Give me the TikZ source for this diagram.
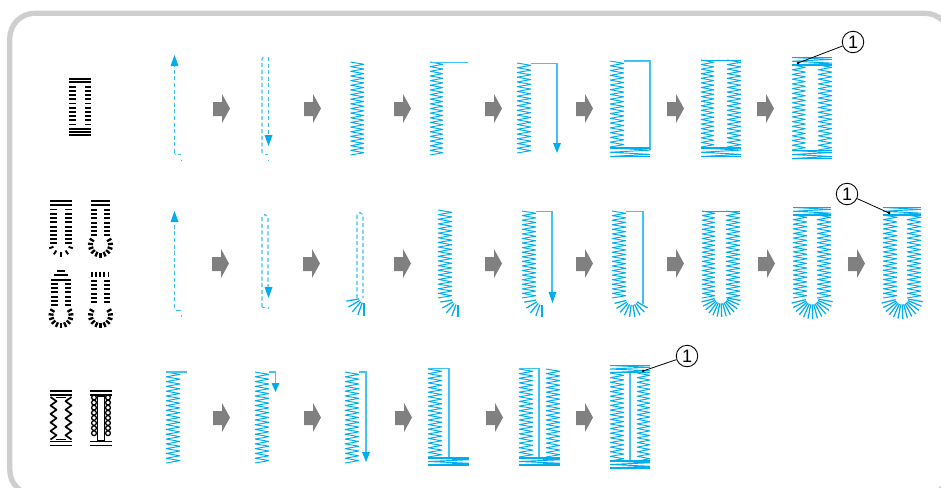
\documentclass[tikz,border=0pt]{standalone}
\usepackage{fontspec}
\setmainfont{Liberation Sans}
\definecolor{thread}{HTML}{00AEEF}
\definecolor{threadl}{HTML}{3CC0F2}
\definecolor{framegray}{HTML}{CECECE}
\definecolor{stepgray}{HTML}{808080}
\tikzset{
  stitch/.style={draw=thread,line width=.95pt,line join=bevel},
  basting/.style={draw=threadl,line width=1.05pt,dash pattern=on 4pt off 2.6pt},
  runline/.style={draw=thread!75,line width=1.1pt},
  tick/.style={draw=black,line width=1.9pt},
  callout/.style={draw=black,circle,line width=.9pt,inner sep=0pt,minimum size=21.5pt,font=\fontsize{18}{18}\selectfont},
  leader/.style={draw=black,line width=.8pt},
}
% zigzag column
\newcommand\zzp[6][stitch]{%
  \pgfmathtruncatemacro\nn{round((#5-#4)/#6)-1}%
  \pgfmathsetmacro\pp{(#5-#4)/(\nn+1)}%
  \draw[#1] (#2,#4) \foreach \i in {0,...,\nn}{ -- (#3,{#4+(\i+.5)*\pp}) -- (#2,{#4+(\i+1)*\pp}) };}
\newcommand\zz[4]{\zzp{#1}{#2}{#3}{#4}{4.7}}
% grey step arrow with its left edge and top
\newcommand\stp[2]{\fill[stepgray] (#1,#2+8) -- (#1+9,#2+8) -- (#1+9,#2) -- (#1+17,#2+14.5) -- (#1+9,#2+29) -- (#1+9,#2+22) -- (#1,#2+22) -- cycle;}
% arrowhead: x, tip y, base y
\newcommand\hd[3]{\fill[thread] (#1,#2) -- (#1-4,#3) -- (#1+4,#3) -- cycle;}
% bar tack block
\newcommand\tack[4]{%
  \draw[stitch,line width=1.3pt] (#1,#3) -- (#2,#3);
  \draw[stitch] (#1,#3) -- (#2,{#3+(#4-#3)*.25}) -- (#1,{#3+(#4-#3)*.5}) -- (#2,{#3+(#4-#3)*.75}) -- (#1,#4);
  \draw[stitch,line width=1.3pt] (#1,#4) -- (#2,#4);}
% radial ticks
\newcommand\fan[8][stitch,line width=1.25pt]{%
  \foreach \a in {#6,#7,...,#8}{\draw[#1] ({#2+#4*cos(\a)},{#3+#4*sin(\a)}) -- ({#2+#5*cos(\a)},{#3+#5*sin(\a)});}}
% rows of black bars
\newcommand\rows[4]{\pgfmathtruncatemacro\mm{(#4-#3)/4.2}\foreach \k in {0,...,\mm}{\draw[tick] (#1,{#3+4.2*\k}) -- (#2,{#3+4.2*\k});}}
\newcommand\hb[3]{\draw[tick] (#1,#3) -- (#2,#3);}
\begin{document}
\begin{tikzpicture}[x=1pt,y=-1pt]
\useasboundingbox (0,0) rectangle (941,487);
\begin{scope}
\clip (0,0) rectangle (941,487);
\draw[framegray,line width=5.3pt,rounded corners=25pt] (9.8,13.3) rectangle (950,495);
\end{scope}

%% ---------- row 1
\hb{69}{91}{79}\hb{69}{91}{82.3}\hb{69}{75.5}{86.7}\hb{85}{91}{86.7}
\rows{69}{75.5}{90.9}{127}\rows{85}{91}{90.9}{127}
\hb{69}{91}{129.3}\hb{69}{91}{132.2}\hb{69}{91}{134.6}

\foreach \sx in {213,304,394,485,576,667,757}{\stp{\sx}{94}}

\draw[basting] (174.5,153) -- (174.5,64);\hd{174.5}{55}{66}
\draw[threadl,line width=1pt] (174.5,153.5) -- (175.5,154.5);
\draw[threadl,line width=1pt] (178,154.5) -- (181,154.5) (181,159.5) -- (181,161);

\draw[basting] (262,153) -- (262,59) -- (264,56);
\draw[basting] (268.5,57) -- (268.5,137);\hd{268.5}{146}{135}
\draw[threadl,line width=1pt] (264.5,154) -- (268,154) (268,159.5) -- (268,161);

\zz{350.5}{364}{62}{155}

\zz{430}{443}{62}{155}
\draw[runline] (430,62.7) -- (468,62.7);

\zz{517}{531}{63}{153}
\draw[runline] (531,63.3) -- (557,63.3) -- (557,145);\hd{557}{153}{143}

\zz{610}{624}{61}{147}
\draw[runline] (624,61) -- (650,61) -- (650,150);
\tack{610}{650}{148}{156.5}

\zz{701}{714}{60}{147}\zz{727}{741}{60}{147}
\draw[stitch,line width=.6pt] (701,60.5) -- (741,60.5);
\tack{701}{741}{148}{156.5}

\tack{792}{832}{57.5}{65}
\zz{792}{805.5}{65}{150}\zz{818}{832}{65}{150}
\tack{792}{832}{150.5}{158.5}

\node[callout] (c1) at (853,42) {1};
\coordinate (d1) at (798,63);
\fill (d1) circle (1.5pt);
\draw[leader] (c1) -- (d1);

%% ---------- row 2 icons
\hb{50}{72}{200.7}\hb{50}{72}{205}\hb{50}{56.7}{209.5}\hb{65}{72}{209.5}
\rows{50}{56.7}{214}{246}\rows{65}{72}{214}{246}
\fan[tick]{61}{244}{8}{12.5}{20}{55}{160}

\hb{91}{110}{200.7}\hb{91}{110}{205}
\rows{91}{97}{210}{236}\rows{104}{110}{210}{236}
\fan[tick,line width=2.3pt]{100.5}{245}{7.5}{12.5}{-30}{-6}{210}

\hb{57}{65}{271}\hb{54}{68}{275}\hb{51}{71}{280}
\rows{51}{57.7}{284}{306}\rows{65}{71}{284}{306}
\fan[tick,line width=2.3pt]{61}{315.5}{7.5}{12.5}{-30}{-6}{210}

\foreach \tx in {92,96,100,104,108.5}{\draw[tick] (\tx,271.7) -- (\tx,277);}
\rows{91}{97}{281}{306}\rows{104}{110}{281}{306}
\fan[tick,line width=2.3pt]{100.5}{315.5}{7.5}{12.5}{-30}{-6}{210}

%% ---------- row 2 steps
\foreach \sx in {212,303,394,485,576,667,758,848}{\stp{\sx}{249}}

\draw[basting] (174.5,308) -- (174.5,220);\hd{174.5}{211}{222}
\draw[threadl,line width=1pt] (176,310) -- (181,310) (181,315) -- (181,317);

\draw[basting] (262,307) -- (262,217) -- (265,214.5) -- (268,217) -- (268,289);\hd{268.5}{298}{287}
\draw[threadl,line width=1pt] (262,307.5) -- (265,307.5) (268,307) -- (268,309);

\draw[basting] (357,298) -- (357,215) -- (360,212.5) -- (363,215) -- (363,298);
\fan{364}{298}{5}{18}{90}{110}{170}

\zz{438}{452}{210}{298}
\fan{458}{299}{6}{18}{90}{110}{170}

\zz{522}{536}{211}{298}
\draw[runline] (536,211.5) -- (552,211.5) -- (552,294);\hd{552.5}{303}{292}
\fan{542}{299}{6}{18}{90}{110}{170}

\zz{612}{626}{211}{298}
\draw[runline] (626,211.5) -- (643,211.5) -- (643,304);
\fan{632}{299}{6}{18}{30}{47}{170}

\zz{702}{715}{211}{298}\zz{726}{740}{211}{298}
\draw[stitch,line width=.6pt] (702,211) -- (740,211);
\fan{721}{297}{6.5}{20}{10}{23}{170}

\tack{793}{831}{207.5}{215}
\zz{793}{807}{215}{298}\zz{817}{831}{215}{298}
\fan{812}{298}{6.5}{21}{10}{23}{170}

\tack{883}{921}{207.5}{215}
\zz{883}{897}{215}{298}\zz{907}{921}{215}{298}
\fan{902}{298}{6.5}{21}{10}{23}{170}

\node[callout] (c2) at (847,194) {1};
\coordinate (d2) at (889,213);
\fill (d2) circle (1.5pt);
\draw[leader] (c2) -- (d2);

%% ---------- row 3 icons
\hb{50}{72}{391}\hb{50}{72}{394.7}\hb{50}{72}{441.5}\hb{50}{72}{445.5}
\zzp[draw=black,line width=1.7pt,line join=round]{50.5}{56.5}{397}{439.5}{8.6}
\zzp[draw=black,line width=1.7pt,line join=round]{71.5}{65.5}{397}{439.5}{8.6}
\draw[black,line width=1pt] (56,439.5) -- (66,439.5) (56,397) -- (66,397);

\hb{90}{112}{391}\hb{90}{112}{394.7}\hb{90}{112}{441.5}\hb{90}{112}{445.5}
\foreach \by in {397.5,402.6,...,438}{
  \draw[black,line width=1.3pt] (94,\by) circle (2.4pt) (108,\by) circle (2.4pt);}
\draw[black,line width=1pt] (97.5,396) -- (97.5,440) -- (104,440) -- (104,396) -- cycle;

%% ---------- row 3 steps
\foreach \sx in {213,304,395,486,576}{\stp{\sx}{403}}

\zz{166}{180}{372}{463}
\draw[runline] (166,372) -- (187,372);

\zz{255}{269}{372}{463}
\draw[runline] (269,372) -- (275.5,372) -- (275.5,385);\hd{275.5}{392}{383}

\zz{345}{359}{372}{463}
\draw[runline] (359,372) -- (366,372) -- (366,454);\hd{366}{462}{452}

\zz{428}{442}{369}{457}
\draw[runline] (428,368.7) -- (449,368.7) -- (449,458);
\tack{428}{469}{458}{465}

\zz{519}{533}{369}{457}\zz{546}{560}{369}{457}
\draw[runline] (519,368.7) -- (539,368.7) -- (539,458);
\tack{519}{560}{458}{465}

\tack{610}{650}{365.5}{372.5}
\zz{610}{624}{373}{461}\zz{637}{650}{373}{461}
\draw[runline] (630,373) -- (630,461);
\tack{610}{650}{461}{468}

\node[callout] (c3) at (687,356) {1};
\coordinate (d3) at (643,371);
\fill (d3) circle (1.5pt);
\draw[leader] (c3) -- (d3);
\end{tikzpicture}
\end{document}
